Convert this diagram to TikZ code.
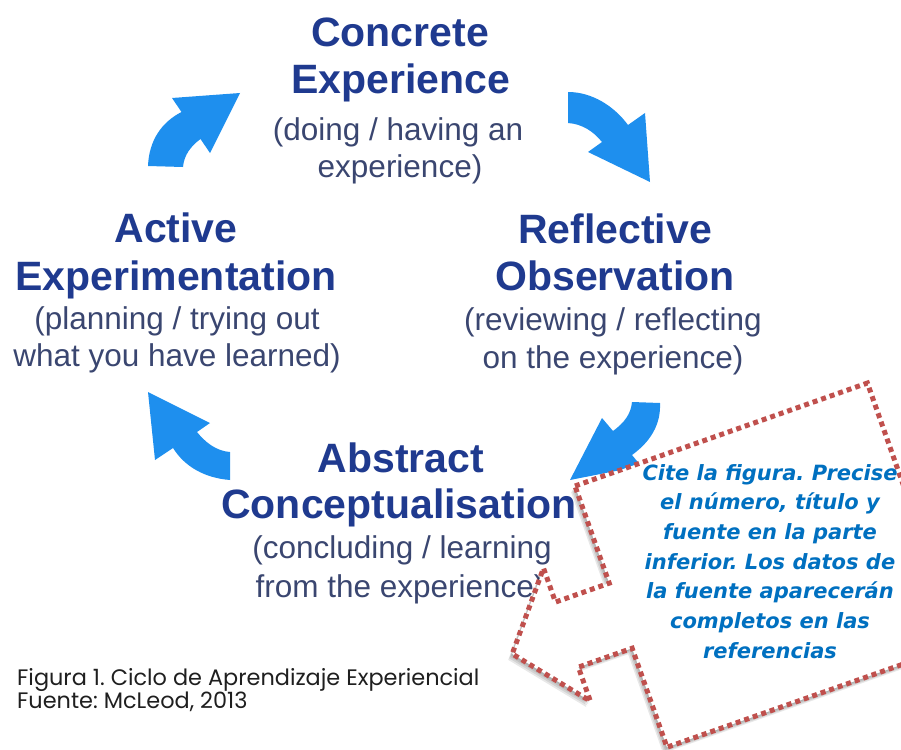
\documentclass[tikz,border=0pt]{standalone}
\usepackage{fontspec}
\setmainfont{Liberation Sans}
\newfontfamily\calloutfont{DejaVu Sans}
\newfontfamily\captionfont{Poppins}
\definecolor{arrowblue}{HTML}{1E8FEE}
\definecolor{headblue}{HTML}{1F3A8F}
\definecolor{subgray}{HTML}{3A4670}
\definecolor{dotred}{HTML}{C0504D}
\definecolor{citeblue}{HTML}{0070C0}
\newcommand\calloutshape{(0,0) -- (310,0) -- (310,-277) -- (0,-277) -- (0,-172) -- (-57,-172) -- (-57,-208) -- (-115,-137.5) -- (-57,-67) -- (-57,-103) -- (0,-103) -- cycle}
\begin{document}
\frenchspacing
\begin{tikzpicture}[x=1pt,y=1pt,
  head/.style={font=\fontsize{41}{41}\selectfont\bfseries, text=headblue, anchor=base, inner sep=0},
  sub/.style={font=\fontsize{31.5}{31.5}\selectfont, text=subgray, anchor=base, inner sep=0},
  cyclearrow/.style={fill=arrowblue, draw=none},
  cite/.style={font=\calloutfont\fontsize{21}{21}\selectfont\bfseries\itshape, text=citeblue, anchor=base, inner sep=0},
  capt/.style={font=\captionfont\fontsize{22.4}{22.4}\selectfont, anchor=base west, inner sep=0, text=black!88},
  calloutborder/.style={fill=white, draw=dotred, line width=5pt, dash pattern=on 5pt off 4pt},
  calloutshadow/.style={fill=black, opacity=0.09}]
\useasboundingbox (0,0) rectangle (901,-749);

% cycle texts
\node[head] (ce1) at (400,-47) {Concrete};
\node[head] (ce2) at (401,-94) {Experience};
\node[sub]  (ce3) at (398,-140) {(doing / having an};
\node[sub]  (ce4) at (400,-177) {experience)};

\node[head] (ae1) at (176,-242) {Active};
\node[head] (ae2) at (176,-290) {Experimentation};
\node[sub]  (ae3) at (177,-329) {(planning / trying out};
\node[sub]  (ae4) at (177,-366) {what you have learned)};

\node[head] (ro1) at (615,-243) {Reflective};
\node[head] (ro2) at (615,-290) {Observation};
\node[sub]  (ro3) at (613,-330) {(reviewing / reflecting};
\node[sub]  (ro4) at (613,-368) {on the experience)};

\node[head] (ac1) at (401,-472) {Abstract};
\node[head] (ac2) at (399,-518) {Conceptualisation};
\node[sub]  (ac3) at (402,-558) {(concluding / learning};
\node[sub]  (ac4) at (400,-597) {from the experience)};

% cycle arrows
\fill[cyclearrow] (148,-166) .. controls (149,-140) and (162,-122) .. (181.5,-112) -- (172,-98) -- (240,-93) -- (210,-153) -- (200.5,-139) .. controls (191,-146) and (184,-155) .. (183,-167) -- cycle;
\fill[cyclearrow] (568,-92) .. controls (592,-92) and (614,-106) .. (628,-125) -- (645,-113) -- (650,-182) -- (588,-152) -- (602,-142) .. controls (593,-131) and (582,-124) .. (568,-123) -- cycle;
\fill[cyclearrow] (660,-403) .. controls (661,-425) and (650,-442) .. (632,-455) -- (641,-466) -- (570,-480) -- (602,-418) -- (613,-431) .. controls (624,-423) and (631,-414) .. (632,-402) -- cycle;
\fill[cyclearrow] (230,-480) .. controls (205,-478) and (185,-467) .. (173,-448) -- (155,-460) -- (148,-392) -- (210,-423) -- (197,-432) .. controls (205,-442) and (216,-451) .. (230,-452) -- cycle;

% callout shadow
\foreach \dx/\dy in {-1/-1.5,-2/-3,-3/-4.5,-4/-6}{
  \begin{scope}[shift={(\dx,\dy)}]
    \begin{scope}[shift={(575,-486)},rotate=19.4]
      \fill[calloutshadow] \calloutshape;
    \end{scope}
  \end{scope}
}
% callout
\begin{scope}[shift={(575,-486)},rotate=19.4]
  \path[calloutborder] \calloutshape;
\end{scope}

\node[cite] (c1) at (770,-480) {Cite la figura. Precise};
\node[cite] (c2) at (770,-509.7) {el número, título y};
\node[cite] (c3) at (770,-539.4) {fuente en la parte};
\node[cite] (c4) at (770,-569.1) {inferior. Los datos de};
\node[cite] (c5) at (770,-598.8) {la fuente aparecerán};
\node[cite] (c6) at (770,-628.5) {completos en las};
\node[cite] (c7) at (770,-658.2) {referencias};

% caption
\node[capt] (cap1) at (17,-685) {Figura 1. Ciclo de Aprendizaje Experiencial};
\node[capt] (cap2) at (17,-708) {Fuente: McLeod, 2013};
\end{tikzpicture}
\end{document}
